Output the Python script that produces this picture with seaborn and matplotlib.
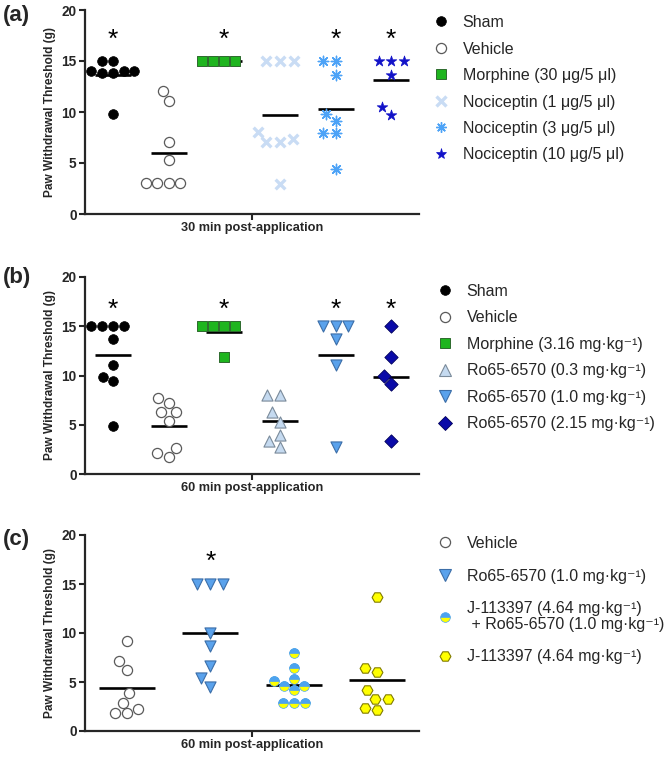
import numpy as np
import pandas as pd
import matplotlib
matplotlib.use("Agg")
import matplotlib.pyplot as plt
from matplotlib.lines import Line2D
from matplotlib.markers import MarkerStyle
import seaborn as sns

# ---- data ----
groups_a = ["Sham", "Vehicle", "Morphine (30 μg/5 μl)", "Nociceptin (1 μg/5 μl)",
            "Nociceptin (3 μg/5 μl)", "Nociceptin (10 μg/5 μl)"]
sham_a = [15, 15, 14, 13.8, 13.8, 14, 14, 9.8]
vehicle_a = [12.1, 11.1, 7.1, 5.3, 3, 3, 3, 3]
morphine_a = [15, 15, 15, 15]
noc1_a = [15, 15, 15, 8.0, 7.4, 7.1, 7.1, 2.9]
noc3_a = [15, 15, 13.6, 9.8, 9.1, 7.9, 7.9, 4.4]
noc10_a = [15, 15, 15, 13.6, 10.5, 9.7]
stars_a = ["Sham", "Morphine (30 μg/5 μl)", "Nociceptin (3 μg/5 μl)", "Nociceptin (10 μg/5 μl)"]

groups_b = ["Sham", "Vehicle", "Morphine (3.16 mg·kg⁻¹)", "Ro65-6570 (0.3 mg·kg⁻¹)",
            "Ro65-6570 (1.0 mg·kg⁻¹)", "Ro65-6570 (2.15 mg·kg⁻¹)"]
sham_b = [15, 15, 15, 15, 13.7, 11.1, 9.8, 9.4, 4.9]
vehicle_b = [7.7, 7.2, 6.3, 6.3, 5.4, 2.6, 2.1, 1.7]
morphine_b = [15, 15, 15, 15, 11.9]
ro03_b = [8.0, 8.0, 6.3, 5.3, 4.0, 3.3, 2.7]
ro10_b = [15, 15, 15, 13.7, 11.1, 2.7]
ro215_b = [15, 11.9, 9.9, 9.1, 3.4]
stars_b = ["Sham", "Morphine (3.16 mg·kg⁻¹)", "Ro65-6570 (1.0 mg·kg⁻¹)", "Ro65-6570 (2.15 mg·kg⁻¹)"]

groups_c = ["Vehicle", "Ro65-6570 (1.0 mg·kg⁻¹)",
            "J-113397 (4.64 mg·kg⁻¹)\n + Ro65-6570 (1.0 mg·kg⁻¹)", "J-113397 (4.64 mg·kg⁻¹)"]
vehicle_c = [9.2, 7.1, 6.2, 3.9, 2.9, 2.2, 1.8, 1.8]
ro10_c = [15, 15, 15, 10.0, 8.7, 6.6, 5.4, 4.5]
combo_c = [8.0, 6.4, 5.3, 5.1, 4.6, 4.6, 4.2, 2.9, 2.9, 2.9]
j_c = [13.7, 6.4, 6.05, 4.2, 3.3, 3.3, 2.3, 2.1]
stars_c = ["Ro65-6570 (1.0 mg·kg⁻¹)"]

xlabel_a = "30 min post-application"
xlabel_b = "60 min post-application"
xlabel_c = "60 min post-application"
ylabel = "Paw Withdrawal Threshold (g)"

# ---- styles ----
def st(marker, face, edge, lw=0.8, size=6.5):
    return dict(marker=marker, face=face, edge=edge, lw=lw, size=size)

styles = {
    "Sham": st("o", "black", "black", 0.5, 7),
    "Vehicle": st("o", "white", "#5a5a5a", 0.9, 7.3),
    "Morphine (30 μg/5 μl)": st("s", "#1fb51f", "#2d6a2d", 0.7, 6.8),
    "Morphine (3.16 mg·kg⁻¹)": st("s", "#1fb51f", "#2d6a2d", 0.7, 6.8),
    "Nociceptin (1 μg/5 μl)": st("x", "#c9dcf4", "#c9dcf4", 2.4, 7),
    "Nociceptin (3 μg/5 μl)": st((8, 2, 0), "#4da3f7", "#4da3f7", 1.0, 7.5),
    "Nociceptin (10 μg/5 μl)": st("*", "#1212c8", "#1212c8", 0.5, 8),
    "Ro65-6570 (0.3 mg·kg⁻¹)": st("^", "#c5daf0", "#7a8a9a", 0.8, 8),
    "Ro65-6570 (1.0 mg·kg⁻¹)": st("v", "#5aa2ec", "#3c6ea8", 0.8, 8),
    "Ro65-6570 (2.15 mg·kg⁻¹)": st("D", "#0a0aa8", "#00005a", 0.6, 6.8),
    "J-113397 (4.64 mg·kg⁻¹)\n + Ro65-6570 (1.0 mg·kg⁻¹)": st("o", "#ffff00", "#4ca3f0", 0.5, 7),
    "J-113397 (4.64 mg·kg⁻¹)": st("H", "#ffff00", "#807a00", 0.8, 7.8),
}
combo_key = groups_c[2]
combo_top = "#4ca3f0"

sns.set_style("ticks")
plt.rcParams["font.family"] = ["Liberation Sans", "DejaVu Sans"]

fig = plt.figure(figsize=(6.66, 7.58), dpi=100)
W, H = 666, 758
AX_L, AX_R = 85, 419


def add_ax(top, bottom):
    return fig.add_axes([AX_L / W, (H - bottom) / H, (AX_R - AX_L) / W, (bottom - top) / H])


def draw_panel(ax, groups, values, stars, xlabel, star_y):
    df = pd.DataFrame({"group": np.repeat(groups, [len(v) for v in values]),
                       "value": np.concatenate(values)})
    n = len(groups)
    mw = 0.66 * (AX_R - AX_L) / n / 1.389
    sns.pointplot(data=df, x="group", y="value", order=groups, estimator="mean",
                  errorbar=None, color="black", markers="_", linestyles="none",
                  markersize=mw, markeredgewidth=1.9, ax=ax, zorder=2)
    for g in groups:
        s = styles[g]
        sub = df[df["group"] == g]
        sns.swarmplot(data=sub, x="group", y="value", order=groups, ax=ax,
                      marker=s["marker"], color=s["face"], edgecolor=s["edge"],
                      linewidth=s["lw"], size=s["size"], zorder=3, legend=False)
        if g == combo_key:
            sns.swarmplot(data=sub, x="group", y="value", order=groups, ax=ax,
                          marker=MarkerStyle("o", fillstyle="top"), color=combo_top,
                          edgecolor=combo_top, linewidth=0.5, size=s["size"],
                          zorder=4, legend=False)
    for g in stars:
        ax.text(groups.index(g), star_y, "*", ha="center", va="center",
                fontsize=19, color="black")
    ax.set_ylim(0, 20)
    ax.set_yticks(range(0, 21, 5))
    ax.set_xlim(-0.5, n - 0.5)
    ax.set_xticks([(n - 1) / 2])
    ax.set_xticklabels([xlabel], fontsize=9.2, fontweight="bold")
    ax.set_xlabel("")
    ax.set_ylabel(ylabel, fontsize=8.6, fontweight="bold", labelpad=4)
    for lab in ax.get_yticklabels():
        lab.set_fontweight("bold")
        lab.set_fontsize(9.8)
    ax.tick_params(width=1.5, length=4, pad=2)
    sns.despine(ax=ax)
    for sp in ("left", "bottom"):
        ax.spines[sp].set_linewidth(1.6)


def make_legend(ax, groups, x, y, spacing):
    handles = []
    for g in groups:
        s = styles[g]
        if g == combo_key:
            h = Line2D([], [], linestyle="none", marker="o", fillstyle="top",
                       markerfacecolor=combo_top, markerfacecoloralt="#ffff00",
                       markeredgecolor=combo_top, markeredgewidth=0.5, markersize=s["size"])
        else:
            h = Line2D([], [], linestyle="none", marker=s["marker"], markerfacecolor=s["face"],
                       markeredgecolor=s["edge"], markeredgewidth=s["lw"], markersize=s["size"],
                       color=s["face"])
        handles.append(h)
    leg = ax.legend(handles, groups, loc="upper left", bbox_to_anchor=(x, y),
                    bbox_transform=fig.transFigure, frameon=False, borderaxespad=0,
                    borderpad=0, handlelength=1.0, handletextpad=0.85,
                    labelspacing=spacing, fontsize=11.5)
    for t in leg.get_texts():
        t.set_linespacing(1.05)
    return leg


ax_a = add_ax(10, 214)
draw_panel(ax_a, groups_a, [sham_a, vehicle_a, morphine_a, noc1_a, noc3_a, noc10_a],
           stars_a, xlabel_a, 17.1)
make_legend(ax_a, groups_a, 433 / W, 1 - 15 / H, 0.72)

ax_b = add_ax(277, 474)
draw_panel(ax_b, groups_b, [sham_b, vehicle_b, morphine_b, ro03_b, ro10_b, ro215_b],
           stars_b, xlabel_b, 16.7)
make_legend(ax_b, groups_b, 437 / W, 1 - 284 / H, 0.72)

ax_c = add_ax(535, 731)
draw_panel(ax_c, groups_c, [vehicle_c, ro10_c, combo_c, j_c], stars_c, xlabel_c, 17.3)
make_legend(ax_c, groups_c, 437 / W, 1 - 536 / H, 1.1)

for lab, yy in (("(a)", 5), ("(b)", 267), ("(c)", 529)):
    fig.text(3 / W, 1 - yy / H, lab, fontsize=16, fontweight="bold", va="top", ha="left")

fig.savefig("out.png", dpi=100)
